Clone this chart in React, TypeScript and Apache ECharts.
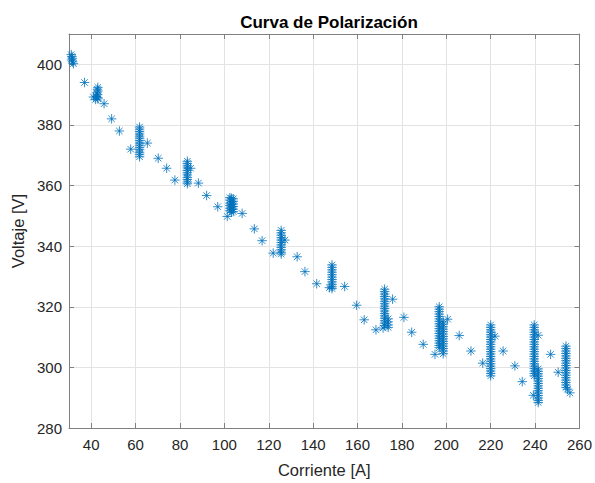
import React, { useEffect, useRef } from "react";
import * as echarts from "echarts";

const chartTitle = "Curva de Polarización";
const xName = "Corriente [A]";
const yName = "Voltaje [V]";
const xTicks = [40, 60, 80, 100, 120, 140, 160, 180, 200, 220, 240, 260];
const yTicks = [280, 300, 320, 340, 360, 380, 400];

// [corriente, voltaje]
const tramo1: number[][] = [
  [31, 403.2], [31.3, 402.6], [31.5, 402], [31.2, 401.4], [31.6, 400.8], [32, 400.2],
  [37, 394],
  [43, 392.4], [42.8, 391.8], [43, 391.2], [42.6, 390.6], [42.9, 390], [42.4, 389.4],
  [43, 389], [41, 389.2], [42, 388.4], [43, 388.6],
  [45.8, 387], [49.2, 382], [52.7, 378], [57.8, 372],
];
const tramo2: number[][] = [
  [61.8, 379.3], [61.8, 378.6], [61.8, 377.8], [61.8, 377], [61.8, 376.3], [61.8, 375.6],
  [61.8, 374.8], [61.8, 374], [61.8, 373.3], [61.8, 372.5], [61.8, 371.8], [61.8, 371],
  [61.8, 370.3], [61.8, 369.5],
  [65.3, 374], [70.2, 369], [74, 365.7], [77.7, 361.8],
  [83.3, 368], [83.3, 367.3], [83.3, 366.5], [83.3, 365.8], [83.3, 365], [83.3, 364.2],
  [83.3, 363.5], [83.3, 362.7], [83.3, 362], [83.3, 361.2], [83.3, 360.6], [84.8, 365.7],
  [88.3, 360.8], [92, 356.7], [97, 353],
];
const tramo3: number[][] = [
  [102.5, 356], [103.2, 355.8], [104, 355.6], [102.5, 355.2], [103.2, 354.6], [104, 354.8],
  [102.5, 354.2], [103.2, 353.8], [104, 353.9], [102.5, 353.4], [103.2, 352.9], [104, 353.1],
  [102.5, 352.5], [103.2, 352.1], [104, 352.2], [102.5, 351.7], [103.2, 351.2], [104, 351.4],
  [101.3, 349.8], [108, 350.8],
  [113.5, 345.7], [117, 341.8], [122, 337.7],
  [125.6, 345.2], [125.6, 344.4], [125.6, 343.6], [125.6, 342.8], [125.6, 342], [125.6, 341.2],
  [125.6, 340.4], [125.6, 339.6], [125.6, 338.8], [125.6, 338], [125.6, 337.4], [127.3, 342],
  [132.8, 336.5], [136.3, 331.6], [141.6, 327.6],
];
const tramo4: number[][] = [
  [148.5, 333.8], [148.5, 333], [148.5, 332.2], [148.5, 331.4], [148.5, 330.6], [148.5, 329.8],
  [148.5, 329], [148.5, 328.2], [148.5, 327.4], [148.5, 326.6], [148.5, 326], [147.3, 326.3],
  [154.2, 326.7], [159.6, 320.5], [163, 315.7], [168.3, 312.4],
  [172.2, 325.8], [172.2, 325], [172.2, 324.2], [172.2, 323.4], [172.2, 322.6], [172.2, 321.8],
  [172.2, 321], [172.2, 320.2], [172.2, 319.4], [172.2, 318.6], [172.2, 317.8], [172.2, 317],
  [172.2, 316.2], [172.2, 315.4], [172.2, 314.6], [172.2, 313.8],
  [173.8, 316], [173.8, 315], [173.8, 314], [173.8, 313.2], [171.5, 313],
  [175.8, 322.5], [180.9, 316.5], [184.4, 311.6], [189.6, 307.6], [194.9, 304.3],
];
const tramo5: number[][] = [
  [196.8, 320], [196.8, 319.2], [196.8, 318.4], [196.8, 317.6], [196.8, 316.8], [196.8, 316],
  [196.8, 315.2], [196.8, 314.4], [196.8, 313.6], [196.8, 312.8], [196.8, 312], [196.8, 311.2],
  [196.8, 310.4], [196.8, 309.6], [196.8, 308.8], [196.8, 308], [196.8, 307.2], [196.8, 306.5],
  [198.6, 315], [198.6, 314.2], [198.6, 313.4], [198.6, 312.6], [198.6, 311.8], [198.6, 311],
  [198.6, 310.2], [198.6, 309.4], [198.6, 308.6], [198.6, 307.8], [198.6, 307], [198.6, 306.2],
  [198.6, 305.4], [198.6, 304.5], [200.6, 315.9],
  [205.8, 310.5], [211.1, 305.4], [216.4, 301.4],
  [220, 314], [220, 313.2], [220, 312.4], [220, 311.6], [220, 310.8], [220, 310], [220, 309.2],
  [220, 308.4], [220, 307.6], [220, 306.8], [220, 306], [220, 305.2], [220, 304.4], [220, 303.6],
  [220, 302.8], [220, 302], [220, 301.2], [220, 300.4], [220, 299.6], [220, 298.8], [220, 298],
  [220, 297.2], [221.9, 310.3],
  [225.6, 305.4], [230.9, 300.5], [234.2, 295.3],
];
const tramo6: number[][] = [
  [239.6, 314], [239.6, 313.2], [239.6, 312.4], [239.6, 311.6], [239.6, 310.8], [239.6, 310],
  [239.6, 309.2], [239.6, 308.4], [239.6, 307.6], [239.6, 306.8], [239.6, 306], [239.6, 305.2],
  [239.6, 304.4], [239.6, 303.6], [239.6, 302.8], [239.6, 302], [239.6, 301.2], [239.6, 300.4],
  [239.6, 299.6], [239.6, 298.8], [239.6, 298], [239.6, 297.2],
  [241.4, 299.5], [241.4, 298.7], [241.4, 297.9], [241.4, 297.1], [241.4, 296.3], [241.4, 295.5],
  [241.4, 294.7], [241.4, 293.9], [241.4, 293.1], [241.4, 292.3], [241.4, 291.5], [241.4, 290.7],
  [241.4, 289.9], [241.4, 289.1], [241.4, 288.4], [241.4, 310.6], [239.2, 290.8],
  [247, 304.3], [250.4, 298.4],
  [253.9, 307], [253.9, 306.2], [253.9, 305.4], [253.9, 304.6], [253.9, 303.8], [253.9, 303],
  [253.9, 302.2], [253.9, 301.4], [253.9, 300.6], [253.9, 299.8], [253.9, 299], [253.9, 298.2],
  [253.9, 297.4], [253.9, 296.6], [253.9, 295.8], [253.9, 295], [253.9, 294.2], [253.9, 293.4],
  [254.6, 292.8], [255.7, 291.6],
];

const puntos = [...tramo1, ...tramo2, ...tramo3, ...tramo4, ...tramo5, ...tramo6];

const asterisk = "path://M5 0 L5 10 M0 5 L10 5 M1.6 1.6 L8.4 8.4 M8.4 1.6 L1.6 8.4";
const axisColor = "#808080";
const textColor = "#262626";
const gridColor = "#e3e3e3";
const font = "'Liberation Sans', Arial, Helvetica, sans-serif";

export default function App() {
  const ref = useRef<HTMLDivElement>(null);
  useEffect(() => {
    if (!ref.current) return;
    const chart = echarts.init(ref.current, undefined, { renderer: "svg" });
    const common = {
      type: "value" as const,
      axisLine: { show: true, onZero: false, lineStyle: { color: axisColor, width: 1 } },
      axisTick: { show: true, inside: true, length: 5, lineStyle: { color: axisColor } },
    };
    chart.setOption({
      animation: false,
      backgroundColor: "#ffffff",
      title: {
        text: chartTitle,
        left: 324,
        textAlign: "center",
        top: 9,
        textStyle: { fontFamily: font, fontSize: 17, fontWeight: "bold", color: "#000" },
      },
      grid: { left: 69, right: 15.5, top: 34, bottom: 46.5, containLabel: false },
      xAxis: [
        {
          ...common,
          min: 30,
          max: 260,
          position: "bottom",
          name: xName,
          nameLocation: "middle",
          nameGap: 33,
          nameTextStyle: { fontFamily: font, fontSize: 16.5, color: textColor },
          axisTick: { ...common.axisTick, customValues: xTicks },
          axisLabel: {
            customValues: xTicks,
            margin: 9,
            fontFamily: font,
            fontSize: 15,
            color: textColor,
          },
          splitLine: { show: true, lineStyle: { color: gridColor, width: 1 } },
        },
        {
          ...common,
          min: 30,
          max: 260,
          position: "top",
          axisTick: { ...common.axisTick, customValues: xTicks },
          axisLabel: { show: false },
          splitLine: { show: false },
        },
      ],
      yAxis: [
        {
          ...common,
          min: 280,
          max: 410,
          position: "left",
          name: yName,
          nameLocation: "middle",
          nameGap: 38,
          nameTextStyle: { fontFamily: font, fontSize: 16.5, color: textColor },
          axisTick: { ...common.axisTick, customValues: yTicks },
          axisLabel: {
            customValues: yTicks,
            margin: 7,
            fontFamily: font,
            fontSize: 15,
            color: textColor,
          },
          splitLine: { show: true, lineStyle: { color: gridColor, width: 1 } },
        },
        {
          ...common,
          min: 280,
          max: 410,
          position: "right",
          axisTick: { ...common.axisTick, customValues: yTicks },
          axisLabel: { show: false },
          splitLine: { show: false },
        },
      ],
      series: [
        {
          type: "scatter",
          xAxisIndex: 0,
          yAxisIndex: 0,
          data: puntos,
          symbol: asterisk,
          symbolSize: 9.5,
          itemStyle: { color: "rgba(0,0,0,0)", borderColor: "#0072BD", borderWidth: 1 },
          emphasis: { disabled: true },
        },
      ],
    });
    return () => chart.dispose();
  }, []);
  return (
    <div
      ref={ref}
      style={{ position: "fixed", left: 0, top: 0, width: 595, height: 483 }}
    />
  );
}
